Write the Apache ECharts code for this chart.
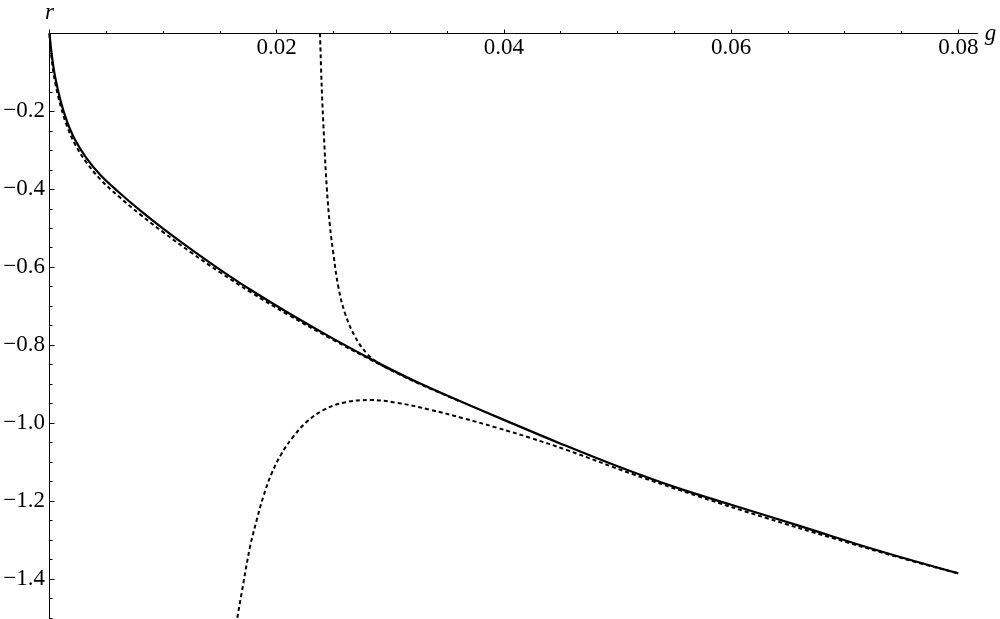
<!DOCTYPE html>
<html>
<head>
<meta charset="utf-8">
<script src="https://cdn.jsdelivr.net/npm/echarts@6/dist/echarts.min.js"></script>
<style>
  html, body { margin: 0; padding: 0; background: #fff; }
  #chart { width: 1000px; height: 619px; }
</style>
</head>
<body>
<div id="chart"></div>
<script>
// exact solution (solid)
const gSolid = [0, 0.0002, 0.0005, 0.001, 0.0015, 0.0022, 0.0033, 0.0045, 0.006, 0.008, 0.01, 0.0125, 0.015, 0.0177, 0.021, 0.025, 0.0287, 0.0323, 0.036, 0.04, 0.045, 0.05, 0.055, 0.06, 0.066, 0.073, 0.08]
const rSolid = [0, -0.055, -0.112, -0.175, -0.222, -0.27, -0.322, -0.364, -0.405, -0.455, -0.501, -0.555, -0.606, -0.658, -0.717, -0.784, -0.842, -0.894, -0.942, -0.992, -1.053, -1.111, -1.164, -1.21, -1.264, -1.328, -1.386]

// small g approximation (dotted, hugging the solid)
const gSmall = [0, 0.0002, 0.0005, 0.001, 0.0015, 0.0022, 0.0033, 0.0045, 0.006, 0.008, 0.01, 0.0125, 0.015, 0.0177, 0.021, 0.025, 0.0287, 0.0323]
const rSmall = [0, -0.068, -0.126, -0.188, -0.234, -0.282, -0.333, -0.375, -0.416, -0.465, -0.51, -0.563, -0.613, -0.664, -0.722, -0.787, -0.844, -0.895]

// upper dotted branch
const gUpper = [0.02381, 0.02396, 0.02416, 0.0244, 0.02469, 0.02498, 0.02542, 0.02601, 0.02689, 0.02792, 0.02909, 0.0305, 0.0323, 0.036]
const rUpper = [0, -0.137, -0.265, -0.393, -0.496, -0.564, -0.65, -0.718, -0.778, -0.821, -0.849, -0.871, -0.896, -0.943]

// lower dotted branch
const gLower = [0.01653, 0.01706, 0.01765, 0.01824, 0.01882, 0.01956, 0.02044, 0.02146, 0.02264, 0.0241, 0.02586, 0.02821, 0.03056, 0.0335, 0.03643, 0.03937, 0.0423, 0.0455, 0.0514, 0.0573, 0.0631, 0.069, 0.075, 0.08]
const rLower = [-1.5, -1.412, -1.318, -1.249, -1.189, -1.129, -1.078, -1.035, -0.997, -0.967, -0.948, -0.941, -0.948, -0.966, -0.988, -1.012, -1.038, -1.069, -1.132, -1.19, -1.244, -1.296, -1.347, -1.386]

// tick labels
const xTickLabels = ['0.02', '0.04', '0.06', '0.08']
const yTickLabels = ['\u22120.2', '\u22120.4', '\u22120.6', '\u22120.8', '\u22121.0', '\u22121.2', '\u22121.4']

const FONT = '"Liberation Serif", "Times New Roman", serif'

function pairs(xs, ys) {
  return xs.map((x, i) => [x, ys[i]])
}

function dotted(name, xs, ys) {
  return {
    name: name,
    type: 'line',
    xAxisIndex: 0,
    yAxisIndex: 0,
    data: pairs(xs, ys),
    showSymbol: false,
    smooth: 0.4,
    lineStyle: { color: '#000', width: 2, type: [4, 3] }
  }
}

const chart = echarts.init(document.getElementById('chart'))
chart.setOption({
  animation: false,
  backgroundColor: '#fff',
  // grid 0: axis line up to g=0.0817, grid 1: ticks up to 0.08 (same scale)
  grid: [
    { left: 49.5, top: 33.5, width: 928.2, height: 623.2, outerBoundsMode: 'none', containLabel: false },
    { left: 49.5, top: 33.5, width: 908.8, height: 623.2, outerBoundsMode: 'none', containLabel: false }
  ],
  xAxis: [
    {
      gridIndex: 0,
      type: 'value',
      position: 'top',
      min: 0,
      max: 0.0817,
      axisLine: { show: true, onZero: false, lineStyle: { color: '#000', width: 1 } },
      axisTick: { show: false },
      axisLabel: { show: false },
      splitLine: { show: false },
      name: 'g',
      nameLocation: 'end',
      nameGap: 7,
      nameTextStyle: { fontFamily: FONT, fontStyle: 'italic', fontSize: 23, color: '#000' }
    },
    {
      gridIndex: 1,
      type: 'value',
      position: 'top',
      min: 0,
      max: 0.08,
      interval: 0.02,
      axisLine: { show: false },
      axisTick: { show: true, length: 4, lineStyle: { color: '#000', width: 1 } },
      minorTick: { show: true, splitNumber: 4, length: 2.5, lineStyle: { color: '#000', width: 1 } },
      axisLabel: {
        inside: true,
        margin: 3,
        fontFamily: FONT,
        fontSize: 23,
        color: '#000',
        formatter: function (v) {
          const s = v.toFixed(2)
          return xTickLabels.indexOf(s) >= 0 ? s : ''
        }
      },
      splitLine: { show: false }
    }
  ],
  yAxis: [
    {
      gridIndex: 0,
      type: 'value',
      min: -1.6,
      max: 0,
      interval: 0.2,
      axisLine: { show: true, onZero: false, lineStyle: { color: '#000', width: 1 } },
      axisTick: { show: true, inside: true, length: 5, lineStyle: { color: '#000', width: 1 } },
      minorTick: { show: true, splitNumber: 4, length: 3, lineStyle: { color: '#000', width: 1 } },
      axisLabel: {
        margin: 4.5,
        fontFamily: FONT,
        fontSize: 23,
        color: '#000',
        formatter: function (v) {
          const s = '\u2212' + Math.abs(v).toFixed(1)
          return yTickLabels.indexOf(s) >= 0 ? s : ''
        }
      },
      splitLine: { show: false },
      name: 'r',
      nameLocation: 'end',
      nameGap: 9,
      nameTextStyle: { fontFamily: FONT, fontStyle: 'italic', fontSize: 23, color: '#000' }
    },
    { gridIndex: 1, type: 'value', min: -1.6, max: 0, show: false }
  ],
  series: [
    dotted('small', gSmall, rSmall),
    dotted('upper', gUpper, rUpper),
    dotted('lower', gLower, rLower),
    {
      name: 'exact',
      type: 'line',
      xAxisIndex: 0,
      yAxisIndex: 0,
      data: pairs(gSolid, rSolid),
      showSymbol: false,
      smooth: 0.4,
      lineStyle: { color: '#000', width: 2.2 }
    }
  ]
})
</script>
</body>
</html>
